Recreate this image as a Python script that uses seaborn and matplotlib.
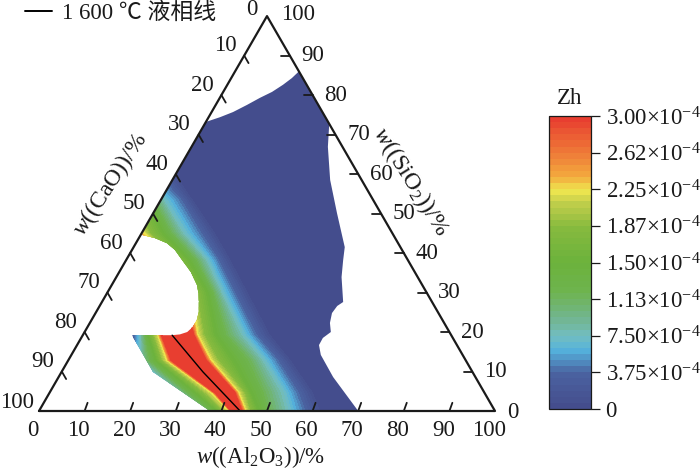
import numpy as np
import matplotlib
matplotlib.use("Agg")
import matplotlib.pyplot as plt
from matplotlib.colors import LinearSegmentedColormap
from matplotlib.patches import Polygon
import seaborn as sns
import pandas as pd

# --- composition rows (SiO2 %) and isolines of Zh (Al2O3 % along each row) ---
si_rows = [0, 4.6, 12.9, 19.2, 29.9, 38.2, 45, 53.4, 59.8, 90]
al_far_left = [-120] * 10
al_l030 = [32.5, 24.5, 13.5, 11.2, 2.8, -3.5, -11.3, -19.5, -27.5, -66.7]
al_l080 = [36, 28.5, 16.0, 12.8, 5, -1.8, -9.6, -17.7, -25.7, -64.5]
al_l150 = [39.3, 32.3, 19.4, 14.5, 7.2, 0.4, -7.4, -15.5, -23.5, -62.3]
al_l225 = [41.9, 35.9, 21.8, 16.7, 10.5, 3, -5.2, -13.3, -21.3, -60.1]
al_l300 = [42.3, 36.5, 22.7, 17.4, 12.7, 4.8, -3.6, -11.8, -20.3, -59]
al_r300 = [44.3, 40.5, 29.95, 24.2, 16, 6.3, -2.5, -10.7, -19.2, -57.9]
al_r225 = [45.2, 41.3, 31, 25, 18.2, 9.6, 0.3, -7.8, -16.3, -55.3]
al_r187 = [46.3, 42.7, 32.8, 26.6, 19.5, 10.9, 1.8, -6.3, -14.8, -53.8]
al_r150 = [48, 44, 35.9, 29, 21.9, 13.6, 4.5, -3.2, -11.7, -50.9]
al_r113 = [50.7, 47.3, 39.8, 31.8, 23.4, 15.5, 6.7, -1.5, -9.9, -49.2]
al_r075 = [54.6, 51.2, 42.7, 35.1, 25.2, 17.7, 9.3, 0.7, -7.8, -47]
al_r037 = [58.3, 54.5, 45.8, 38, 27.9, 20.2, 13, 4.4, -3.8, -43]
al_r000 = [62.1, 58.2, 49, 41.5, 31.2, 23.2, 16.5, 7.3, 0.6, -38.2]
al_far_right = [120] * 10
iso_z = [0, 0.3, 0.8, 1.5, 2.25, 3.0, 3.0, 2.25, 1.87, 1.5, 1.13, 0.75, 0.375, 0, 0]

# --- outline of the plotted region (Al2O3 %, SiO2 %) ---
region_al = [0, 2.5, 4.7, 6.85, 8.8, 10.7, 12.2, 13.3, 14, 27.3, 29.9, 34.6, 40.3, 46.3, 47.6, 49.4,
             52.9, 52.1, 51.85, 52.65, 54, 53, 53.05, 54.7, 60.2, 70, 37.5, 20.05, 10.8, 19.6,
             21.2, 22.5, 23.1, 23.1, 22.5, 21.4, 20.2, 18.7, 15.7, 12.3, 9.4, 6.8, 3.5, 0.3]
region_si = [73.2, 74.4, 75.7, 77.5, 79.3, 80.8, 82.6, 84.3, 86, 72.7, 66.9, 58.5, 50.1, 41.5, 38.2, 33.9,
             27.6, 26.6, 24.8, 22.3, 20, 18.5, 16.7, 14.2, 8.6, 0, 0, 9.9, 19.2, 19.2,
             19.4, 20, 21.3, 23, 25.1, 27.3, 29.6, 31.9, 35.2, 38.2, 40.8, 42.5, 43.8, 44.6]

# --- 1600 C liquidus ---
liq_al = [19.6, 31, 44.1]
liq_si = [19.2, 9.9, 0]

ternary_ticks = [0, 10, 20, 30, 40, 50, 60, 70, 80, 90, 100]
cbar_values = [0, 0.375, 0.75, 1.125, 1.5, 1.875, 2.25, 2.625, 3.0]
cbar_labels = ["0", "3.75×10$^{-4}$", "7.50×10$^{-4}$", "1.13×10$^{-4}$", "1.50×10$^{-4}$",
               "1.87×10$^{-4}$", "2.25×10$^{-4}$", "2.62×10$^{-4}$", "3.00×10$^{-4}$"]

sns.set_theme(style="white")
plt.rcParams["font.family"] = ["Liberation Serif", "Noto Sans CJK SC", "DejaVu Sans"]
plt.rcParams["mathtext.fontset"] = "custom"
plt.rcParams["mathtext.rm"] = "Liberation Serif"
plt.rcParams["mathtext.it"] = "Liberation Serif:italic"
plt.rcParams["mathtext.default"] = "rm"

INK = "#1a1a1a"
FS = 16.5
W, H = 700, 472
PX = 4.56
X0, Y0 = 39, 411


def to_xy(al, si):
    al, si = np.asarray(al, float), np.asarray(si, float)
    return al + si / 2, si * np.sqrt(3) / 2


fig = plt.figure(figsize=(7, 4.72), dpi=100)
ax = fig.add_axes([0, 0, 1, 1])

cmap = LinearSegmentedColormap.from_list("zh", [
    (0.0, "#444c8c"), (0.12, "#4a62a0"), (0.20, "#55b3dd"), (0.25, "#72bdc0"),
    (0.31, "#72b58e"), (0.40, "#6eb44e"), (0.50, "#6cb23c"), (0.62, "#86ba3e"),
    (0.71, "#c6d04c"), (0.745, "#efe64f"), (0.80, "#f3a63d"), (0.875, "#ef7b38"),
    (1.0, "#e73a2f")])

columns = [al_far_left, al_l030, al_l080, al_l150, al_l225, al_l300, al_r300,
           al_r225, al_r187, al_r150, al_r113, al_r075, al_r037, al_r000, al_far_right]
al_grid = np.array(columns).T
si_grid = np.tile(np.array(si_rows, float)[:, None], (1, len(columns)))
z_grid = np.tile(np.array(iso_z)[None, :], (len(si_rows), 1))
gx, gy = to_xy(al_grid, si_grid)
levels = np.linspace(0, 3.0, 49)
cs = ax.contourf(gx, gy, z_grid, levels=levels, cmap=cmap, vmin=0, vmax=3.0, zorder=1)
cs.set_edgecolor("face")
cs.set_linewidth(0.3)
rx, ry = to_xy(region_al, region_si)
clip = Polygon(np.c_[rx, ry], closed=True, transform=ax.transData, fc="none", ec="none")
ax.add_patch(clip)
cs.set_clip_path(clip)

# triangle frame
fx, fy = to_xy([0, 100, 0, 0], [0, 0, 100, 0])
sns.lineplot(data=pd.DataFrame({"x": fx, "y": fy}), x="x", y="y", sort=False, estimator=None,
             color=INK, lw=1.6, ax=ax, zorder=4, legend=False)
# liquidus
lx, ly = to_xy(liq_al, liq_si)
sns.lineplot(data=pd.DataFrame({"x": lx, "y": ly}), x="x", y="y", sort=False, estimator=None,
             color="black", lw=1.0, ax=ax, zorder=3, label="1 600 ℃ 液相线")

# ticks and labels
for t in ternary_ticks:
    # bottom: Al2O3
    bx, by = to_xy(t, 0)
    # left: CaO
    lfx, lfy = to_xy(0, 100 - t)
    # right: SiO2
    rtx, rty = to_xy(100 - t, t)
    if 0 < t < 100:
        ax.plot([bx, bx + 0.65], [by, by + 1.8], color=INK, lw=1.3, zorder=4)
        ax.plot([lfx, lfx + 0.95], [lfy, lfy - 1.65], color=INK, lw=1.3, zorder=4)
        ax.plot([rtx, rtx - 1.9], [rty, rty], color=INK, lw=1.3, zorder=4)
    off_b = (-6, -19)
    ax.annotate(str(t), (bx, by), xytext=off_b, textcoords="offset pixels", ha="center",
                va="center", fontsize=FS, color=INK)
    off_l = (-22, 8) if t == 100 else (-15, 7) if t == 0 else (-19, 10)
    ax.annotate(str(t), (lfx, lfy), xytext=off_l, textcoords="offset pixels", ha="center",
                va="center", fontsize=FS, color=INK)
    off_r = (31, 2) if t == 100 else (18, -1) if t == 0 else (23, 0)
    ax.annotate(str(t), (rtx, rty), xytext=off_r, textcoords="offset pixels", ha="center",
                va="center", fontsize=FS, color=INK)

ax.set_xlim(-X0 / PX, (W - X0) / PX)
ax.set_ylim((Y0 - H) / PX, Y0 / PX)
ax.set_axis_off()

leg = ax.legend(loc="upper left", bbox_to_anchor=(25 / W, 1 - 2 / H), frameon=False, fontsize=FS,
                handlelength=1.18, handletextpad=0.44, borderaxespad=0, borderpad=0)
for h in leg.get_lines():
    h.set_color("black")
    h.set_linewidth(1.4)
for tx in leg.get_texts():
    tx.set_color(INK)

# axis titles
fig.text(261 / W, 1 - 457 / H, r"$\mathit{w}$((Al$_2$O$_3$))/%", ha="center", va="center",
         fontsize=FS, color=INK)
fig.text(110 / W, 1 - 185 / H, r"$\mathit{w}$((CaO))/%", ha="center", va="center", rotation=57,
         rotation_mode="anchor", fontsize=17, color=INK)
fig.text(411 / W, 1 - 182 / H, r"$\mathit{w}$((SiO$_2$))/%", ha="center", va="center", rotation=-58,
         rotation_mode="anchor", fontsize=17.5, color=INK)

# colour bar
cax = fig.add_axes([549 / W, 1 - 409 / H, 42 / W, 293 / H])
cb = fig.colorbar(cs, cax=cax, ticks=cbar_values)
cb.ax.set_yticklabels(cbar_labels, fontsize=FS, color=INK)
cb.ax.tick_params(axis="y", length=6.5, width=0.9, color=INK, pad=4, right=True, left=False)
cb.outline.set_linewidth(0.9)
cb.outline.set_edgecolor(INK)
cb.ax.minorticks_off()
fig.text(570 / W, 1 - 99 / H, "Zh", ha="center", va="center", fontsize=FS, color=INK)

fig.savefig("out.png", dpi=100)
